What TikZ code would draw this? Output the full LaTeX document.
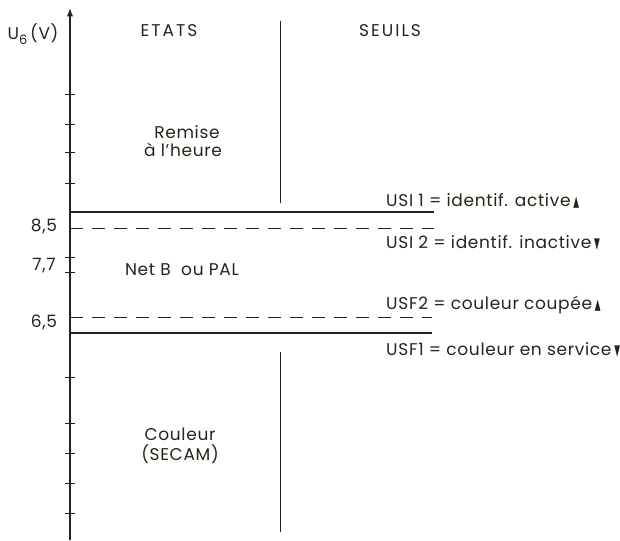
\documentclass[tikz,border=0pt]{standalone}
\usepackage{fontspec}
\setmainfont{Poppins}[LetterSpace=4]
\newfontfamily\symb{DejaVu Sans}
\usetikzlibrary{arrows.meta}
\definecolor{encre}{HTML}{2A2218}
\newcommand{\monte}{\,\scalebox{0.5}[1]{\symb\fontsize{15}{15}\selectfont ▲}}
\newcommand{\descend}{\,\scalebox{0.5}[1]{\symb\fontsize{15}{15}\selectfont ▼}}

\begin{document}
\begin{tikzpicture}[>=Latex, x=1pt, y=-1pt, font=\fontsize{17}{18}\selectfont,
    seuilplein/.style={line width=1.2pt, encre},
    seuiltiret/.style={line width=0.8pt, encre, dash pattern=on 13pt off 9pt},
    titre/.style={text=encre, font=\fontsize{17}{18}\selectfont\addfontfeature{LetterSpace=12}},
    etiquette/.style={anchor=west, inner sep=0pt, text=encre}]
  \useasboundingbox (0,0) rectangle (620,540);

  % axe U6
  \coordinate (bas) at (70,540);
  \coordinate (haut) at (70,8);
  \draw[->, line width=1.2pt, encre] (bas) -- (haut);
  \foreach \y in {95,125,153,183,257,272,377,423,453,483,513}
    \draw[line width=1pt, encre] (65,\y) -- (75,\y);
  \node[text=encre] (uaxe) at (33,34) {U\raisebox{-.45ex}{\fontsize{13}{13}\selectfont 6}\,(V)};

  % graduations
  \node[text=encre] (v85) at (44,226) {8,5};
  \node[text=encre] (v77) at (44,266) {7,7};
  \node[text=encre] (v65) at (44,322) {6,5};

  % titres
  \node[titre] (etats) at (169,31) {ETATS};
  \node[titre] (seuils) at (390,31) {SEUILS};

  % separation
  \draw[line width=0.7pt, encre] (280,21) -- (280,203);
  \draw[line width=0.7pt, encre] (280,352) -- (280,532);

  % seuils
  \draw[seuilplein] (70,212) coordinate (usig) -- (434,212) coordinate (usid);
  \draw[seuiltiret] (70,228) coordinate (usiig) -- (434,228) coordinate (usiid);
  \draw[seuiltiret] (70,317) coordinate (usfiig) -- (432,317) coordinate (usfiid);
  \draw[seuilplein] (70,333) coordinate (usfig) -- (432,333) coordinate (usfid);

  % etats
  \node[text=encre, inner sep=0pt] (remise) at (187,132) {Remise};
  \node[text=encre, inner sep=0pt] (heure) at (183,150) {à l'heure};
  \node[text=encre] (netb) at (182,270) {Net B \ ou PAL};
  \node[align=center, text=encre] (couleur) at (180,446) {Couleur\\[2pt](SECAM)};

  % libelles des seuils
  \node[etiquette] (usi1) at (386,201) {USI 1 = identif. active\monte};
  \node[etiquette] (usi2) at (386,243) {USI 2 = identif. inactive\descend};
  \node[etiquette] (usf2) at (386,305) {USF2 = couleur coupée\monte};
  \node[etiquette] (usf1) at (386,350) {USF1 = couleur en service\descend};
\end{tikzpicture}
\end{document}
